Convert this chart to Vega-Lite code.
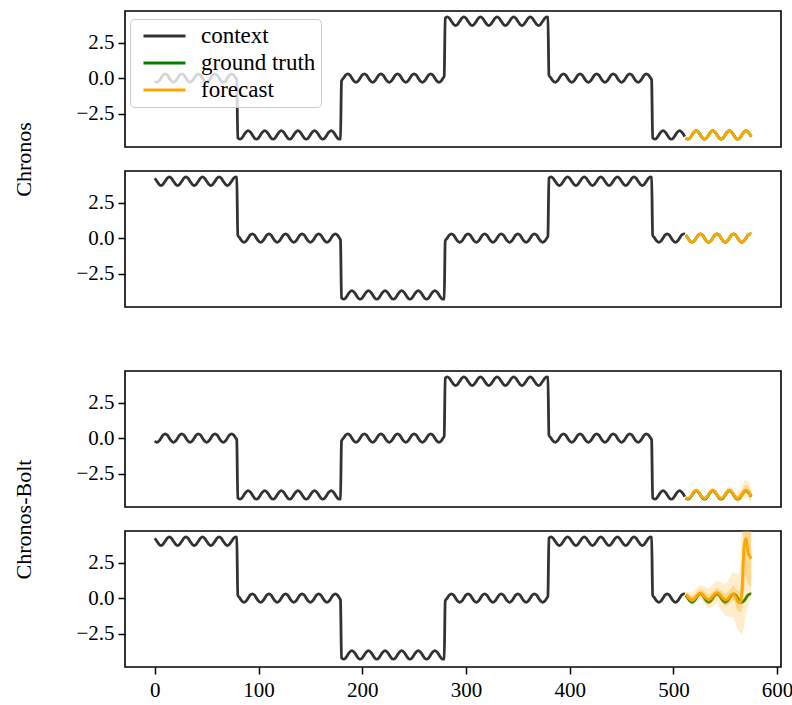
{
"$schema": "https://vega.github.io/schema/vega-lite/v6.json",
"background": "white",
"padding": {"left": 11, "top": 10, "right": 0, "bottom": 5},
"bounds": "flush",
"spacing": 24,
"config": {
  "font": "Liberation Serif",
  "view": {"stroke": "black", "strokeWidth": 1.6},
  "axis": {"grid": false, "domain": false, "tickColor": "black", "tickSize": 7, "tickWidth": 1.5, "labelFont": "Liberation Serif", "labelFontSize": 21, "labelColor": "black", "labelPadding": 4, "titleFont": "Liberation Serif", "titleFontSize": 22, "titleFontWeight": "normal", "titleColor": "black"},
  "legend": {"orient": "none", "legendX": 5, "legendY": 8, "fillColor": "rgba(255,255,255,0.8)", "strokeColor": "#cccccc", "cornerRadius": 4, "padding": 5, "symbolOffset": 17.5, "symbolType": "M-2,0H2", "symbolStrokeWidth": 3, "symbolSize": 441, "labelFont": "Liberation Serif", "labelFontSize": 23, "labelColor": "black", "rowPadding": 3, "labelOffset": 24.5}
},
"datasets": {
"ctx": [
{"t":0,"a":-0.21,"b":4.21},{"t":2,"a":-0.3,"b":4},{"t":4,"a":-0.21,"b":3.79},{"t":6,"a":0,"b":3.7},{"t":8,"a":0.21,"b":3.79},{"t":10,"a":0.3,"b":4},{"t":12,"a":0.21,"b":4.21},{"t":14,"a":0,"b":4.3},
{"t":16,"a":-0.21,"b":4.21},{"t":18,"a":-0.3,"b":4},{"t":20,"a":-0.21,"b":3.79},{"t":22,"a":0,"b":3.7},{"t":24,"a":0.21,"b":3.79},{"t":26,"a":0.3,"b":4},{"t":28,"a":0.21,"b":4.21},{"t":30,"a":0,"b":4.3},
{"t":32,"a":-0.21,"b":4.21},{"t":34,"a":-0.3,"b":4},{"t":36,"a":-0.21,"b":3.79},{"t":38,"a":0,"b":3.7},{"t":40,"a":0.21,"b":3.79},{"t":42,"a":0.3,"b":4},{"t":44,"a":0.21,"b":4.21},{"t":46,"a":0,"b":4.3},
{"t":48,"a":-0.21,"b":4.21},{"t":50,"a":-0.3,"b":4},{"t":52,"a":-0.21,"b":3.79},{"t":54,"a":0,"b":3.7},{"t":56,"a":0.21,"b":3.79},{"t":58,"a":0.3,"b":4},{"t":60,"a":0.21,"b":4.21},{"t":62,"a":0,"b":4.3},
{"t":64,"a":-0.21,"b":4.21},{"t":66,"a":-0.3,"b":4},{"t":68,"a":-0.21,"b":3.79},{"t":70,"a":0,"b":3.7},{"t":72,"a":0.21,"b":3.79},{"t":74,"a":0.3,"b":4},{"t":76,"a":0.21,"b":4.21},{"t":78,"a":0,"b":4.3},{"t":79,"a":-0.12,"b":4.28},
{"t":80,"a":-4.21,"b":0.21},{"t":82,"a":-4.3,"b":0},{"t":84,"a":-4.21,"b":-0.21},{"t":86,"a":-4,"b":-0.3},{"t":88,"a":-3.79,"b":-0.21},{"t":90,"a":-3.7,"b":0},{"t":92,"a":-3.79,"b":0.21},{"t":94,"a":-4,"b":0.3},
{"t":96,"a":-4.21,"b":0.21},{"t":98,"a":-4.3,"b":0},{"t":100,"a":-4.21,"b":-0.21},{"t":102,"a":-4,"b":-0.3},{"t":104,"a":-3.79,"b":-0.21},{"t":106,"a":-3.7,"b":0},{"t":108,"a":-3.79,"b":0.21},{"t":110,"a":-4,"b":0.3},
{"t":112,"a":-4.21,"b":0.21},{"t":114,"a":-4.3,"b":0},{"t":116,"a":-4.21,"b":-0.21},{"t":118,"a":-4,"b":-0.3},{"t":120,"a":-3.79,"b":-0.21},{"t":122,"a":-3.7,"b":0},{"t":124,"a":-3.79,"b":0.21},{"t":126,"a":-4,"b":0.3},
{"t":128,"a":-4.21,"b":0.21},{"t":130,"a":-4.3,"b":0},{"t":132,"a":-4.21,"b":-0.21},{"t":134,"a":-4,"b":-0.3},{"t":136,"a":-3.79,"b":-0.21},{"t":138,"a":-3.7,"b":0},{"t":140,"a":-3.79,"b":0.21},{"t":142,"a":-4,"b":0.3},
{"t":144,"a":-4.21,"b":0.21},{"t":146,"a":-4.3,"b":0},{"t":148,"a":-4.21,"b":-0.21},{"t":150,"a":-4,"b":-0.3},{"t":152,"a":-3.79,"b":-0.21},{"t":154,"a":-3.7,"b":0},{"t":156,"a":-3.79,"b":0.21},{"t":158,"a":-4,"b":0.3},
{"t":160,"a":-4.21,"b":0.21},{"t":162,"a":-4.3,"b":0},{"t":164,"a":-4.21,"b":-0.21},{"t":166,"a":-4,"b":-0.3},{"t":168,"a":-3.79,"b":-0.21},{"t":170,"a":-3.7,"b":0},{"t":172,"a":-3.79,"b":0.21},{"t":174,"a":-4,"b":0.3},
{"t":176,"a":-4.21,"b":0.21},{"t":178,"a":-4.3,"b":0},{"t":179,"a":-4.28,"b":-0.12},
{"t":180,"a":-0.21,"b":-4.21},{"t":182,"a":0,"b":-4.3},{"t":184,"a":0.21,"b":-4.21},{"t":186,"a":0.3,"b":-4},{"t":188,"a":0.21,"b":-3.79},{"t":190,"a":0,"b":-3.7},{"t":192,"a":-0.21,"b":-3.79},{"t":194,"a":-0.3,"b":-4},
{"t":196,"a":-0.21,"b":-4.21},{"t":198,"a":0,"b":-4.3},{"t":200,"a":0.21,"b":-4.21},{"t":202,"a":0.3,"b":-4},{"t":204,"a":0.21,"b":-3.79},{"t":206,"a":0,"b":-3.7},{"t":208,"a":-0.21,"b":-3.79},{"t":210,"a":-0.3,"b":-4},
{"t":212,"a":-0.21,"b":-4.21},{"t":214,"a":0,"b":-4.3},{"t":216,"a":0.21,"b":-4.21},{"t":218,"a":0.3,"b":-4},{"t":220,"a":0.21,"b":-3.79},{"t":222,"a":0,"b":-3.7},{"t":224,"a":-0.21,"b":-3.79},{"t":226,"a":-0.3,"b":-4},
{"t":228,"a":-0.21,"b":-4.21},{"t":230,"a":0,"b":-4.3},{"t":232,"a":0.21,"b":-4.21},{"t":234,"a":0.3,"b":-4},{"t":236,"a":0.21,"b":-3.79},{"t":238,"a":0,"b":-3.7},{"t":240,"a":-0.21,"b":-3.79},{"t":242,"a":-0.3,"b":-4},
{"t":244,"a":-0.21,"b":-4.21},{"t":246,"a":0,"b":-4.3},{"t":248,"a":0.21,"b":-4.21},{"t":250,"a":0.3,"b":-4},{"t":252,"a":0.21,"b":-3.79},{"t":254,"a":0,"b":-3.7},{"t":256,"a":-0.21,"b":-3.79},{"t":258,"a":-0.3,"b":-4},
{"t":260,"a":-0.21,"b":-4.21},{"t":262,"a":0,"b":-4.3},{"t":264,"a":0.21,"b":-4.21},{"t":266,"a":0.3,"b":-4},{"t":268,"a":0.21,"b":-3.79},{"t":270,"a":0,"b":-3.7},{"t":272,"a":-0.21,"b":-3.79},{"t":274,"a":-0.3,"b":-4},
{"t":276,"a":-0.21,"b":-4.21},{"t":278,"a":0,"b":-4.3},{"t":279,"a":0.12,"b":-4.28},
{"t":280,"a":4.21,"b":-0.21},{"t":282,"a":4.3,"b":0},{"t":284,"a":4.21,"b":0.21},{"t":286,"a":4,"b":0.3},{"t":288,"a":3.79,"b":0.21},{"t":290,"a":3.7,"b":0},{"t":292,"a":3.79,"b":-0.21},{"t":294,"a":4,"b":-0.3},
{"t":296,"a":4.21,"b":-0.21},{"t":298,"a":4.3,"b":0},{"t":300,"a":4.21,"b":0.21},{"t":302,"a":4,"b":0.3},{"t":304,"a":3.79,"b":0.21},{"t":306,"a":3.7,"b":0},{"t":308,"a":3.79,"b":-0.21},{"t":310,"a":4,"b":-0.3},
{"t":312,"a":4.21,"b":-0.21},{"t":314,"a":4.3,"b":0},{"t":316,"a":4.21,"b":0.21},{"t":318,"a":4,"b":0.3},{"t":320,"a":3.79,"b":0.21},{"t":322,"a":3.7,"b":0},{"t":324,"a":3.79,"b":-0.21},{"t":326,"a":4,"b":-0.3},
{"t":328,"a":4.21,"b":-0.21},{"t":330,"a":4.3,"b":0},{"t":332,"a":4.21,"b":0.21},{"t":334,"a":4,"b":0.3},{"t":336,"a":3.79,"b":0.21},{"t":338,"a":3.7,"b":0},{"t":340,"a":3.79,"b":-0.21},{"t":342,"a":4,"b":-0.3},
{"t":344,"a":4.21,"b":-0.21},{"t":346,"a":4.3,"b":0},{"t":348,"a":4.21,"b":0.21},{"t":350,"a":4,"b":0.3},{"t":352,"a":3.79,"b":0.21},{"t":354,"a":3.7,"b":0},{"t":356,"a":3.79,"b":-0.21},{"t":358,"a":4,"b":-0.3},
{"t":360,"a":4.21,"b":-0.21},{"t":362,"a":4.3,"b":0},{"t":364,"a":4.21,"b":0.21},{"t":366,"a":4,"b":0.3},{"t":368,"a":3.79,"b":0.21},{"t":370,"a":3.7,"b":0},{"t":372,"a":3.79,"b":-0.21},{"t":374,"a":4,"b":-0.3},
{"t":376,"a":4.21,"b":-0.21},{"t":378,"a":4.3,"b":0},{"t":379,"a":4.28,"b":0.12},
{"t":380,"a":0.21,"b":4.21},{"t":382,"a":0,"b":4.3},{"t":384,"a":-0.21,"b":4.21},{"t":386,"a":-0.3,"b":4},{"t":388,"a":-0.21,"b":3.79},{"t":390,"a":0,"b":3.7},{"t":392,"a":0.21,"b":3.79},{"t":394,"a":0.3,"b":4},
{"t":396,"a":0.21,"b":4.21},{"t":398,"a":0,"b":4.3},{"t":400,"a":-0.21,"b":4.21},{"t":402,"a":-0.3,"b":4},{"t":404,"a":-0.21,"b":3.79},{"t":406,"a":0,"b":3.7},{"t":408,"a":0.21,"b":3.79},{"t":410,"a":0.3,"b":4},
{"t":412,"a":0.21,"b":4.21},{"t":414,"a":0,"b":4.3},{"t":416,"a":-0.21,"b":4.21},{"t":418,"a":-0.3,"b":4},{"t":420,"a":-0.21,"b":3.79},{"t":422,"a":0,"b":3.7},{"t":424,"a":0.21,"b":3.79},{"t":426,"a":0.3,"b":4},
{"t":428,"a":0.21,"b":4.21},{"t":430,"a":0,"b":4.3},{"t":432,"a":-0.21,"b":4.21},{"t":434,"a":-0.3,"b":4},{"t":436,"a":-0.21,"b":3.79},{"t":438,"a":0,"b":3.7},{"t":440,"a":0.21,"b":3.79},{"t":442,"a":0.3,"b":4},
{"t":444,"a":0.21,"b":4.21},{"t":446,"a":0,"b":4.3},{"t":448,"a":-0.21,"b":4.21},{"t":450,"a":-0.3,"b":4},{"t":452,"a":-0.21,"b":3.79},{"t":454,"a":0,"b":3.7},{"t":456,"a":0.21,"b":3.79},{"t":458,"a":0.3,"b":4},
{"t":460,"a":0.21,"b":4.21},{"t":462,"a":0,"b":4.3},{"t":464,"a":-0.21,"b":4.21},{"t":466,"a":-0.3,"b":4},{"t":468,"a":-0.21,"b":3.79},{"t":470,"a":0,"b":3.7},{"t":472,"a":0.21,"b":3.79},{"t":474,"a":0.3,"b":4},
{"t":476,"a":0.21,"b":4.21},{"t":478,"a":0,"b":4.3},{"t":479,"a":-0.12,"b":4.28},
{"t":480,"a":-4.21,"b":0.21},{"t":482,"a":-4.3,"b":0},{"t":484,"a":-4.21,"b":-0.21},{"t":486,"a":-4,"b":-0.3},{"t":488,"a":-3.79,"b":-0.21},{"t":490,"a":-3.7,"b":0},{"t":492,"a":-3.79,"b":0.21},{"t":494,"a":-4,"b":0.3},
{"t":496,"a":-4.21,"b":0.21},{"t":498,"a":-4.3,"b":0},{"t":500,"a":-4.21,"b":-0.21},{"t":502,"a":-4,"b":-0.3},{"t":504,"a":-3.79,"b":-0.21},{"t":506,"a":-3.7,"b":0},{"t":508,"a":-3.79,"b":0.21},{"t":510,"a":-4,"b":0.3},{"t":511,"a":-4.12,"b":0.28}],
"gt": [
{"t":512,"a":-4.21,"b":0.21,"m3":-4.17,"lo3":-4.29,"hi3":-4.05,"li3":-4.23,"ui3":-4.11,"m4":0.27},
{"t":514,"a":-4.3,"b":0,"m3":-4.26,"lo3":-4.38,"hi3":-4.14,"li3":-4.32,"ui3":-4.2,"m4":0.1},
{"t":516,"a":-4.21,"b":-0.21,"m3":-4.17,"lo3":-4.29,"hi3":-4.05,"li3":-4.23,"ui3":-4.11,"m4":-0.07},
{"t":518,"a":-4,"b":-0.3,"m3":-3.96,"lo3":-4.08,"hi3":-3.84,"li3":-4.02,"ui3":-3.9,"m4":-0.14},
{"t":520,"a":-3.79,"b":-0.21,"m3":-3.75,"lo3":-3.87,"hi3":-3.63,"li3":-3.81,"ui3":-3.69,"m4":-0.07},
{"t":522,"a":-3.7,"b":0,"m3":-3.66,"lo3":-3.78,"hi3":-3.54,"li3":-3.72,"ui3":-3.6,"m4":0.1},
{"t":524,"a":-3.79,"b":0.21,"m3":-3.75,"lo3":-3.87,"hi3":-3.63,"li3":-3.81,"ui3":-3.69,"m4":0.27},
{"t":526,"a":-4,"b":0.3,"m3":-3.96,"lo3":-4.08,"hi3":-3.84,"li3":-4.02,"ui3":-3.9,"m4":0.34},
{"t":528,"a":-4.21,"b":0.21,"m3":-4.17,"lo3":-4.29,"hi3":-4.05,"li3":-4.23,"ui3":-4.11,"m4":0.27},
{"t":530,"a":-4.3,"b":0,"m3":-4.26,"lo3":-4.38,"hi3":-4.14,"li3":-4.32,"ui3":-4.2,"m4":0.1},
{"t":532,"a":-4.21,"b":-0.21,"m3":-4.17,"lo3":-4.35,"hi3":-3.99,"li3":-4.26,"ui3":-4.08,"m4":-0.02},
{"t":534,"a":-4,"b":-0.3,"m3":-3.96,"lo3":-4.14,"hi3":-3.78,"li3":-4.05,"ui3":-3.87,"m4":-0.09},
{"t":536,"a":-3.79,"b":-0.21,"m3":-3.75,"lo3":-3.93,"hi3":-3.57,"li3":-3.84,"ui3":-3.66,"m4":-0.02},
{"t":538,"a":-3.7,"b":0,"m3":-3.66,"lo3":-3.84,"hi3":-3.48,"li3":-3.75,"ui3":-3.57,"m4":0.15},
{"t":540,"a":-3.79,"b":0.21,"m3":-3.75,"lo3":-3.93,"hi3":-3.57,"li3":-3.84,"ui3":-3.66,"m4":0.32},
{"t":542,"a":-4,"b":0.3,"m3":-3.96,"lo3":-4.14,"hi3":-3.78,"li3":-4.05,"ui3":-3.87,"m4":0.39},
{"t":544,"a":-4.21,"b":0.21,"m3":-4.17,"lo3":-4.35,"hi3":-3.99,"li3":-4.26,"ui3":-4.08,"m4":0.32},
{"t":546,"a":-4.3,"b":0,"m3":-4.26,"lo3":-4.44,"hi3":-4.08,"li3":-4.35,"ui3":-4.17,"m4":0.15},
{"t":548,"a":-4.21,"b":-0.21,"m3":-4.17,"lo3":-4.35,"hi3":-3.99,"li3":-4.26,"ui3":-4.08,"m4":-0.02},
{"t":550,"a":-4,"b":-0.3,"m3":-3.96,"lo3":-4.14,"hi3":-3.78,"li3":-4.05,"ui3":-3.87,"m4":-0.09},
{"t":552,"a":-3.79,"b":-0.21,"m3":-3.75,"lo3":-4.0,"hi3":-3.5,"li3":-3.88,"ui3":-3.62,"m4":-0.07},
{"t":554,"a":-3.7,"b":0,"m3":-3.66,"lo3":-3.91,"hi3":-3.41,"li3":-3.79,"ui3":-3.53,"m4":0.1},
{"t":556,"a":-3.79,"b":0.21,"m3":-3.75,"lo3":-4.0,"hi3":-3.5,"li3":-3.88,"ui3":-3.62,"m4":0.27},
{"t":558,"a":-4,"b":0.3,"m3":-3.96,"lo3":-4.21,"hi3":-3.71,"li3":-4.09,"ui3":-3.83,"m4":0.3},
{"t":560,"a":-4.21,"b":0.21,"m3":-4.17,"lo3":-4.42,"hi3":-3.92,"li3":-4.3,"ui3":-4.04,"m4":0.1},
{"t":562,"a":-4.3,"b":0,"m3":-4.26,"lo3":-4.61,"hi3":-3.77,"li3":-4.44,"ui3":-4.01,"m4":-0.25},
{"t":564,"a":-4.21,"b":-0.21,"m3":-4.17,"lo3":-4.52,"hi3":-3.68,"li3":-4.35,"ui3":-3.92,"m4":-0.35},
{"t":566,"a":-4,"b":-0.3,"m3":-3.96,"lo3":-4.31,"hi3":-3.47,"li3":-4.14,"ui3":-3.71,"m4":0.3},
{"t":568,"a":-3.79,"b":-0.21,"m3":-3.75,"lo3":-4.25,"hi3":-3.05,"li3":-4.0,"ui3":-3.4,"m4":3.5},
{"t":570,"a":-3.7,"b":0,"m3":-3.66,"lo3":-4.16,"hi3":-2.96,"li3":-3.91,"ui3":-3.31,"m4":4.2},
{"t":572,"a":-3.79,"b":0.21,"m3":-3.75,"lo3":-4.25,"hi3":-3.05,"li3":-4.0,"ui3":-3.4,"m4":3.2},
{"t":574,"a":-4,"b":0.3,"m3":-3.96,"lo3":-4.46,"hi3":-3.26,"li3":-4.21,"ui3":-3.61,"m4":2.9},
{"t":575,"a":-4.12,"b":0.28,"m3":-4.08,"lo3":-4.58,"hi3":-3.38,"li3":-4.33,"ui3":-3.73,"m4":2.8}],
"fc4": [
{"t":512,"li":0.05,"ui":0.4,"lo":-0.05,"hi":0.5},
{"t":514,"li":-0.1,"ui":0.3,"lo":-0.2,"hi":0.45},
{"t":518,"li":-0.3,"ui":0.15,"lo":-0.45,"hi":0.4},
{"t":522,"li":-0.1,"ui":0.4,"lo":-0.3,"hi":0.65},
{"t":526,"li":0.15,"ui":0.65,"lo":-0.05,"hi":0.9},
{"t":530,"li":-0.1,"ui":0.45,"lo":-0.4,"hi":0.8},
{"t":534,"li":-0.4,"ui":0.25,"lo":-0.7,"hi":0.7},
{"t":538,"li":-0.2,"ui":0.45,"lo":-0.6,"hi":0.95},
{"t":542,"li":0.05,"ui":0.7,"lo":-0.4,"hi":1.2},
{"t":546,"li":-0.2,"ui":0.55,"lo":-0.8,"hi":1.1},
{"t":550,"li":-0.55,"ui":0.3,"lo":-1.2,"hi":1.0},
{"t":554,"li":-0.4,"ui":0.55,"lo":-1.3,"hi":1.4},
{"t":558,"li":-0.2,"ui":0.85,"lo":-1.4,"hi":1.8},
{"t":562,"li":-0.9,"ui":0.5,"lo":-2.2,"hi":1.7},
{"t":564,"li":-1.0,"ui":0.6,"lo":-2.4,"hi":1.8},
{"t":566,"li":-0.8,"ui":2.5,"lo":-2.5,"hi":5.5},
{"t":568,"li":0.5,"ui":5.5,"lo":-2.0,"hi":6.5},
{"t":570,"li":1.5,"ui":6,"lo":-1.2,"hi":7},
{"t":572,"li":1.0,"ui":5.5,"lo":-0.5,"hi":7},
{"t":575,"li":0.8,"ui":5,"lo":0.0,"hi":7}]
},
"vconcat": [
{
 "width": 656, "height": 136,
 "encoding": {
   "x": {"field": "t", "type": "quantitative", "scale": {"domain": [-28.75, 603.75], "nice": false, "zero": false}, "axis": null},
   "y": {"type": "quantitative", "scale": {"domain": [-4.85, 4.72], "nice": false, "zero": false}, "axis": {"values": [-2.5, 0, 2.5], "format": ".1f", "title": "Chronos", "titleX": -102, "titleY": 148, "titleAngle": 270, "titleAlign": "center", "titleBaseline": "middle"}}
 },
 "layer": [
  {"data": {"name": "ctx"}, "mark": {"type": "line", "strokeWidth": 2.8, "interpolate": "monotone", "clip": true}, "encoding": {"y": {"field": "a"}, "color": {"datum": "context", "scale": {"domain": ["context", "ground truth", "forecast"], "range": ["#333333", "#008000", "#ffa500"]}, "legend": {"title": null}}}},
  {"data": {"name": "gt"}, "mark": {"type": "line", "strokeWidth": 2.8, "interpolate": "monotone", "clip": true}, "encoding": {"y": {"field": "a"}, "color": {"datum": "ground truth"}}},
  {"data": {"name": "gt"}, "mark": {"type": "line", "strokeWidth": 2.8, "interpolate": "monotone", "clip": true}, "encoding": {"y": {"field": "a"}, "color": {"datum": "forecast"}}},
  {"mark": {"type": "rule", "color": "#9467bd", "strokeWidth": 3, "strokeDash": [11, 5]}, "encoding": {"y": {"datum": 4}}},
  {"mark": {"type": "rule", "color": "#9467bd", "strokeWidth": 3, "strokeDash": [11, 5]}, "encoding": {"y": {"datum": 0}}},
  {"mark": {"type": "rule", "color": "#9467bd", "strokeWidth": 3}, "encoding": {"x": {"datum": 300}, "y": {"datum": 0.9}, "y2": {"datum": 3.0}}},
  {"mark": {"type": "point", "shape": "M0,-1L0.9,1L-0.9,1Z", "filled": true, "color": "#9467bd", "opacity": 1, "size": 144}, "encoding": {"x": {"datum": 300}, "y": {"datum": 3.01}}},
  {"mark": {"type": "point", "shape": "M0,1L0.9,-1L-0.9,-1Z", "filled": true, "color": "#9467bd", "opacity": 1, "size": 144}, "encoding": {"x": {"datum": 300}, "y": {"datum": 0.89}}}
 ]
},
{
 "width": 656, "height": 136,
 "encoding": {
   "x": {"field": "t", "type": "quantitative", "scale": {"domain": [-28.75, 603.75], "nice": false, "zero": false}, "axis": null},
   "y": {"type": "quantitative", "scale": {"domain": [-4.85, 4.72], "nice": false, "zero": false}, "axis": {"values": [-2.5, 0, 2.5], "format": ".1f", "title": null}}
 },
 "layer": [
  {"data": {"name": "ctx"}, "mark": {"type": "line", "strokeWidth": 2.8, "interpolate": "monotone", "clip": true}, "encoding": {"y": {"field": "b"}, "color": {"datum": "context"}}},
  {"data": {"name": "gt"}, "mark": {"type": "line", "strokeWidth": 2.8, "interpolate": "monotone", "clip": true}, "encoding": {"y": {"field": "b"}, "color": {"datum": "ground truth"}}},
  {"data": {"name": "gt"}, "mark": {"type": "line", "strokeWidth": 2.8, "interpolate": "monotone", "clip": true}, "encoding": {"y": {"field": "b"}, "color": {"datum": "forecast"}}}
 ]
},
{
 "width": 656, "height": 16,
 "view": {"stroke": null},
 "data": {"values": [{"t": 0}]},
 "mark": {"type": "point", "opacity": 0}
},
{
 "width": 656, "height": 136,
 "encoding": {
   "x": {"field": "t", "type": "quantitative", "scale": {"domain": [-28.75, 603.75], "nice": false, "zero": false}, "axis": null},
   "y": {"type": "quantitative", "scale": {"domain": [-4.85, 4.72], "nice": false, "zero": false}, "axis": {"values": [-2.5, 0, 2.5], "format": ".1f", "title": "Chronos-Bolt", "titleX": -102, "titleY": 148, "titleAngle": 270, "titleAlign": "center", "titleBaseline": "middle"}}
 },
 "layer": [
  {"data": {"name": "ctx"}, "mark": {"type": "line", "strokeWidth": 2.8, "interpolate": "monotone", "clip": true}, "encoding": {"y": {"field": "a"}, "color": {"datum": "context"}}},
  {"data": {"name": "gt"}, "mark": {"type": "line", "strokeWidth": 2.8, "interpolate": "monotone", "clip": true}, "encoding": {"y": {"field": "a"}, "color": {"datum": "ground truth"}}},
  {"data": {"name": "gt"}, "mark": {"type": "area", "color": "#ffa500", "opacity": 0.2, "interpolate": "monotone", "clip": true}, "encoding": {"y": {"field": "lo3"}, "y2": {"field": "hi3"}}},
  {"data": {"name": "gt"}, "mark": {"type": "area", "color": "#ffa500", "opacity": 0.3, "interpolate": "monotone", "clip": true}, "encoding": {"y": {"field": "li3"}, "y2": {"field": "ui3"}}},
  {"data": {"name": "gt"}, "mark": {"type": "line", "strokeWidth": 2.8, "interpolate": "monotone", "clip": true}, "encoding": {"y": {"field": "m3"}, "color": {"datum": "forecast"}}}
 ]
},
{
 "width": 656, "height": 136,
 "encoding": {
   "x": {"field": "t", "type": "quantitative", "scale": {"domain": [-28.75, 603.75], "nice": false, "zero": false}, "axis": {"values": [0, 100, 200, 300, 400, 500, 600], "format": "d", "title": null, "labelPadding": 5}},
   "y": {"type": "quantitative", "scale": {"domain": [-4.85, 4.72], "nice": false, "zero": false}, "axis": {"values": [-2.5, 0, 2.5], "format": ".1f", "title": null}}
 },
 "layer": [
  {"data": {"name": "ctx"}, "mark": {"type": "line", "strokeWidth": 2.8, "interpolate": "monotone", "clip": true}, "encoding": {"y": {"field": "b"}, "color": {"datum": "context"}}},
  {"data": {"name": "gt"}, "mark": {"type": "line", "strokeWidth": 2.8, "interpolate": "monotone", "clip": true}, "encoding": {"y": {"field": "b"}, "color": {"datum": "ground truth"}}},
  {"data": {"name": "fc4"}, "mark": {"type": "area", "color": "#ffa500", "opacity": 0.2, "interpolate": "monotone", "clip": true}, "encoding": {"y": {"field": "lo"}, "y2": {"field": "hi"}}},
  {"data": {"name": "fc4"}, "mark": {"type": "area", "color": "#ffa500", "opacity": 0.3, "interpolate": "monotone", "clip": true}, "encoding": {"y": {"field": "li"}, "y2": {"field": "ui"}}},
  {"data": {"name": "gt"}, "mark": {"type": "line", "strokeWidth": 2.8, "interpolate": "monotone", "clip": true}, "encoding": {"y": {"field": "m4"}, "color": {"datum": "forecast"}}}
 ]
}
]
}
